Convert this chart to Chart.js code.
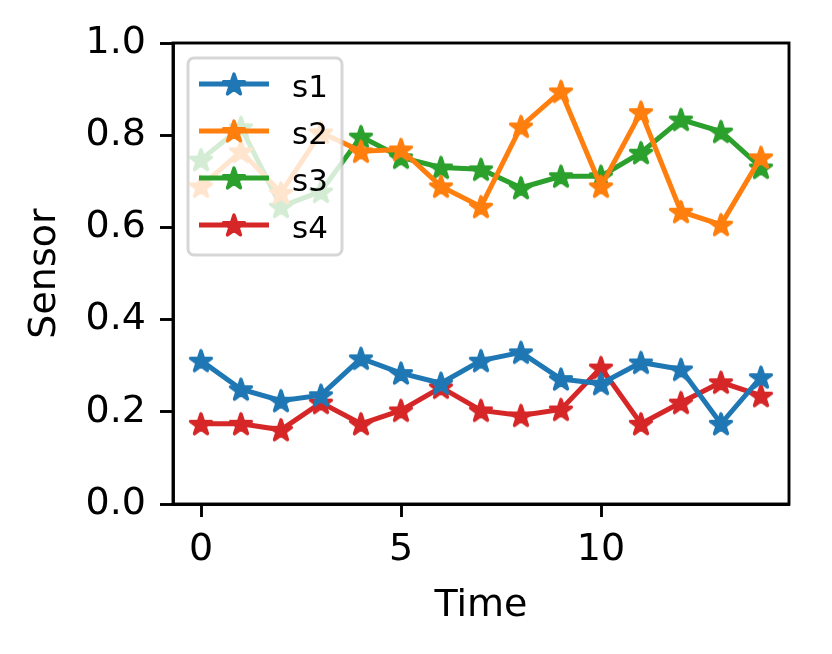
<!DOCTYPE html>
<html>
<head>
<meta charset="utf-8">
<script src="https://cdn.jsdelivr.net/npm/chart.js@4.4.1/dist/chart.umd.min.js"></script>
<style>
  body { margin: 0; background: #ffffff; }
  canvas { display: block; }
</style>
</head>
<body>
<canvas id="sensorChart" width="832" height="654"></canvas>
<script>
/* =========================
   DATA
========================= */

const timeSteps = [0, 1, 2, 3, 4, 5, 6, 7, 8, 9, 10, 11, 12, 13, 14];

const s1 = [0.311, 0.249, 0.224, 0.236, 0.316, 0.284, 0.262, 0.311, 0.329, 0.271, 0.261, 0.307, 0.292, 0.174, 0.275];
const s2 = [0.689, 0.765, 0.675, 0.806, 0.765, 0.769, 0.689, 0.645, 0.819, 0.895, 0.689, 0.850, 0.634, 0.606, 0.752];
const s3 = [0.747, 0.817, 0.645, 0.678, 0.797, 0.752, 0.730, 0.726, 0.686, 0.711, 0.711, 0.762, 0.834, 0.808, 0.730];
const s4 = [0.174, 0.174, 0.161, 0.220, 0.174, 0.203, 0.253, 0.203, 0.192, 0.205, 0.296, 0.174, 0.220, 0.264, 0.235];

const seriesNames = ["s1", "s2", "s3", "s4"];
const seriesColors = ["#1f77b4", "#ff7f0e", "#2ca02c", "#d62728"];

const xTicks = [0, 5, 10];
const yTicks = [0.0, 0.2, 0.4, 0.6, 0.8, 1.0];

const FONT = "'DejaVu Sans', sans-serif";

/* =========================
   STAR MARKER
========================= */

function makeStar(color) {

    const size = 32;
    const c = document.createElement("canvas");
    c.width = size;
    c.height = size;

    const g = c.getContext("2d");
    const cx = size / 2;
    const cy = size / 2 + 1;
    const outer = 11;
    const inner = outer * 0.381966;

    g.beginPath();
    for (let i = 0; i < 10; i++) {
        const r = i % 2 === 0 ? outer : inner;
        const a = -Math.PI / 2 + i * Math.PI / 5;
        const px = cx + r * Math.cos(a);
        const py = cy + r * Math.sin(a);
        if (i === 0) g.moveTo(px, py);
        else g.lineTo(px, py);
    }
    g.closePath();
    g.fillStyle = color;
    g.strokeStyle = color;
    g.lineWidth = 3.4;
    g.lineJoin = "round";
    g.fill();
    g.stroke();

    return c;
}

const stars = seriesColors.map(makeStar);

/* =========================
   PLUGINS
========================= */

const framePlugin = {
    id: "frame",
    afterDraw(chart) {
        const { ctx, chartArea: a } = chart;
        ctx.save();
        ctx.strokeStyle = "#000000";
        ctx.lineWidth = 2.9;
        ctx.strokeRect(a.left, a.top, a.right - a.left, a.bottom - a.top);
        ctx.restore();
    }
};

const legendPlugin = {
    id: "boxLegend",
    afterDatasetsDraw(chart) {
        const ctx = chart.ctx;
        const x = 188, y = 58, w = 154, h = 197, r = 6;

        ctx.save();
        ctx.beginPath();
        ctx.roundRect(x, y, w, h, r);
        ctx.fillStyle = "rgba(255,255,255,0.8)";
        ctx.fill();
        ctx.lineWidth = 3;
        ctx.strokeStyle = "rgba(204,204,204,0.8)";
        ctx.stroke();

        seriesNames.forEach((name, i) => {
            const iy = 84 + i * 47;
            ctx.beginPath();
            ctx.moveTo(199, iy);
            ctx.lineTo(269, iy);
            ctx.strokeStyle = seriesColors[i];
            ctx.lineWidth = 5;
            ctx.stroke();
            ctx.drawImage(stars[i], 234 - 16, iy - 16);

            ctx.fillStyle = "#000000";
            ctx.font = "31px " + FONT;
            ctx.textAlign = "left";
            ctx.textBaseline = "alphabetic";
            ctx.fillText(name, 292, iy + 13);
        });
        ctx.restore();
    }
};

/* =========================
   CHART
========================= */

const allSeries = [s1, s2, s3, s4];

const datasets = allSeries.map((values, i) => ({
    label: seriesNames[i],
    data: timeSteps.map((t, k) => ({ x: t, y: values[k] })),
    borderColor: seriesColors[i],
    backgroundColor: seriesColors[i],
    borderWidth: 5,
    pointStyle: stars[i],
    pointRadius: 11,
    pointHoverRadius: 11,
    tension: 0,
    fill: false
}));

new Chart(document.getElementById("sensorChart"), {
    type: "line",
    data: { datasets },
    plugins: [legendPlugin, framePlugin],
    options: {
        responsive: false,
        animation: false,
        devicePixelRatio: 1,
        layout: { padding: { left: 0, right: 43, top: 43, bottom: 0 } },
        plugins: {
            legend: { display: false },
            tooltip: { enabled: false }
        },
        scales: {
            x: {
                type: "linear",
                min: -0.7,
                max: 14.7,
                afterBuildTicks(scale) {
                    scale.ticks = xTicks.map(v => ({ value: v }));
                },
                afterFit(scale) {
                    scale.height = 150;
                },
                ticks: {
                    color: "#000000",
                    font: { family: FONT, size: 38 },
                    padding: 10,
                    maxRotation: 0,
                    callback: v => String(v)
                },
                grid: {
                    drawOnChartArea: false,
                    drawTicks: true,
                    tickLength: 13,
                    tickWidth: 2.9,
                    tickColor: "#000000"
                },
                border: { display: true, color: "#000000", width: 2.9 },
                title: {
                    display: true,
                    text: "Time",
                    color: "#000000",
                    font: { family: FONT, size: 38 },
                    padding: { top: 0, bottom: 25 }
                }
            },
            y: {
                type: "linear",
                min: 0,
                max: 1,
                afterBuildTicks(scale) {
                    scale.ticks = yTicks.map(v => ({ value: v }));
                },
                afterFit(scale) {
                    scale.width = 173;
                },
                ticks: {
                    color: "#000000",
                    font: { family: FONT, size: 38 },
                    padding: 14,
                    callback: v => Number(v).toFixed(1)
                },
                grid: {
                    drawOnChartArea: false,
                    drawTicks: true,
                    tickLength: 13,
                    tickWidth: 2.9,
                    tickColor: "#000000"
                },
                border: { display: true, color: "#000000", width: 2.9 },
                title: {
                    display: true,
                    text: "Sensor",
                    color: "#000000",
                    font: { family: FONT, size: 38 },
                    padding: { top: 22, bottom: 0 }
                }
            }
        }
    }
});
</script>
</body>
</html>
